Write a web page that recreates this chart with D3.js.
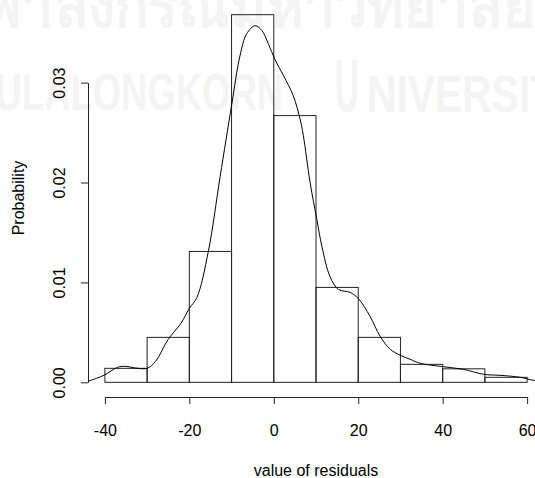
<!DOCTYPE html>
<html>
<head>
<meta charset="utf-8">
<script src="https://cdn.jsdelivr.net/npm/d3@7"></script>
<style>
  body { margin: 0; background: #fff; }
  svg { display: block; }
  text { font-family: "Liberation Sans", Arial, sans-serif; }
</style>
</head>
<body>
<div id="chart"></div>
<script>
// histogram bins of residuals (density scale)
var binStart = [-40, -30, -20, -10, 0, 10, 20, 30, 40, 50];
var binEnd = [-30, -20, -10, 0, 10, 20, 30, 40, 50, 60];
var binDensity = [0.0014, 0.0045, 0.0131, 0.0368, 0.0267, 0.0095, 0.0045, 0.0018, 0.00135, 0.0005];

// kernel density curve
var densX = [-44, -42, -40, -37, -35, -33, -30, -28, -25, -22, -20, -18.2, -15.5, -12.7, -10, -8, -6.4, -4.4, -2.8, -1.3, 0.3, 2.3, 4.6, 6.2, 7, 8.6, 10.2, 11.4, 13.3, 15.3, 18.1, 20, 22.8, 25.2, 27.6, 30, 32.3, 34.7, 39.4, 44.9, 49.7, 53.6, 58.4, 61.5, 64];
var densY = [0.0001, 0.0004, 0.00075, 0.0015, 0.0016, 0.00145, 0.0014, 0.0021, 0.0043, 0.0059, 0.0074, 0.0085, 0.0131, 0.0206, 0.0277, 0.0327, 0.0349, 0.0357, 0.0352, 0.0339, 0.0323, 0.0307, 0.0287, 0.0264, 0.0247, 0.0200, 0.0163, 0.0136, 0.0106, 0.0093, 0.0090, 0.0084, 0.0066, 0.0046, 0.0033, 0.0027, 0.0023, 0.0019, 0.0016, 0.0013, 0.0008, 0.0007, 0.0005, 0.0002, 0.0001];

var xTicks = [-40, -20, 0, 20, 40, 60];
var yTicks = [0, 0.01, 0.02, 0.03];
var xTitle = "value of residuals";
var yTitle = "Probability";

var width = 535, height = 478;

var svg = d3.select("#chart").append("svg")
    .attr("width", width)
    .attr("height", height);

// faint watermark in the background
var wm = svg.append("g").attr("fill", "#f4f4f4")
    .style("font-family", "'DejaVu Sans Condensed', 'DejaVu Sans', sans-serif")
    .style("font-weight", "bold");
wm.append("text")
    .attr("x", -48).attr("y", 27)
    .attr("font-size", 60)
    .attr("textLength", 583).attr("lengthAdjust", "spacingAndGlyphs")
    .text("จุฬาลงกรณ์มหาวิทยาลัย");
wm.append("text")
    .attr("x", -57).attr("y", 110)
    .attr("font-size", 52)
    .attr("textLength", 340).attr("lengthAdjust", "spacingAndGlyphs")
    .text("CHULALONGKORN");
wm.append("text")
    .attr("x", 335).attr("y", 112)
    .attr("font-size", 74)
    .attr("textLength", 24).attr("lengthAdjust", "spacingAndGlyphs")
    .text("U");
wm.append("text")
    .attr("x", 367).attr("y", 112)
    .attr("font-size", 51)
    .attr("textLength", 215).attr("lengthAdjust", "spacingAndGlyphs")
    .text("NIVERSITY");

// plot region like R: ranges extended 4%
var x = d3.scaleLinear().domain([-44, 64]).range([88, 544]);
var y = d3.scaleLinear().domain([-0.00147, 0.03827]).range([397, 0]);

svg.append("clipPath").attr("id", "plotclip")
  .append("rect").attr("x", 88).attr("y", 0).attr("width", 456).attr("height", 397);

var plot = svg.append("g").attr("clip-path", "url(#plotclip)");

plot.selectAll("rect.bar")
    .data(binDensity)
    .enter().append("rect")
    .attr("class", "bar")
    .attr("x", function (d, i) { return x(binStart[i]); })
    .attr("width", function (d, i) { return x(binEnd[i]) - x(binStart[i]); })
    .attr("y", function (d) { return y(d); })
    .attr("height", function (d) { return y(0) - y(d); })
    .attr("fill", "none")
    .attr("stroke", "#222")
    .attr("stroke-width", 1);

var line = d3.line()
    .x(function (d, i) { return x(densX[i]); })
    .y(function (d) { return y(d); })
    .curve(d3.curveCatmullRom);

plot.append("path")
    .datum(densY)
    .attr("d", line)
    .attr("fill", "none")
    .attr("stroke", "#000")
    .attr("stroke-width", 1);

// axes, line spans first to last tick as in R
var xAxisScale = d3.scaleLinear().domain([-40, 60]).range([x(-40), x(60)]);
var xAxis = svg.append("g")
    .attr("transform", "translate(0,397)")
    .call(d3.axisBottom(xAxisScale).tickValues(xTicks).tickSizeOuter(0).tickSizeInner(7)
        .tickFormat(function (d) { return String(d); }));
xAxis.selectAll("text").attr("y", 0).attr("dy", "39px")
    .style("font-size", "16px").attr("fill", "#000");

var yAxisScale = d3.scaleLinear().domain([0, 0.03]).range([y(0), y(0.03)]);
var yAxis = svg.append("g")
    .attr("transform", "translate(88,0)")
    .call(d3.axisLeft(yAxisScale).tickValues(yTicks).tickSizeOuter(0).tickSizeInner(7)
        .tickFormat(function (d) { return d.toFixed(2); }));
yAxis.selectAll("text")
    .attr("x", null).attr("dy", null)
    .attr("text-anchor", "middle")
    .attr("transform", "translate(-23,0) rotate(-90)")
    .style("font-size", "16px").attr("fill", "#000");

svg.selectAll(".domain, .tick line").attr("stroke", "#222");
svg.selectAll(".tick text").attr("font-family", null);

svg.append("text")
    .attr("x", x(10)).attr("y", 476)
    .attr("text-anchor", "middle")
    .style("font-size", "16px")
    .text(xTitle);

svg.append("text")
    .attr("transform", "translate(24,198) rotate(-90)")
    .attr("text-anchor", "middle")
    .style("font-size", "16px")
    .text(yTitle);
</script>
</body>
</html>
